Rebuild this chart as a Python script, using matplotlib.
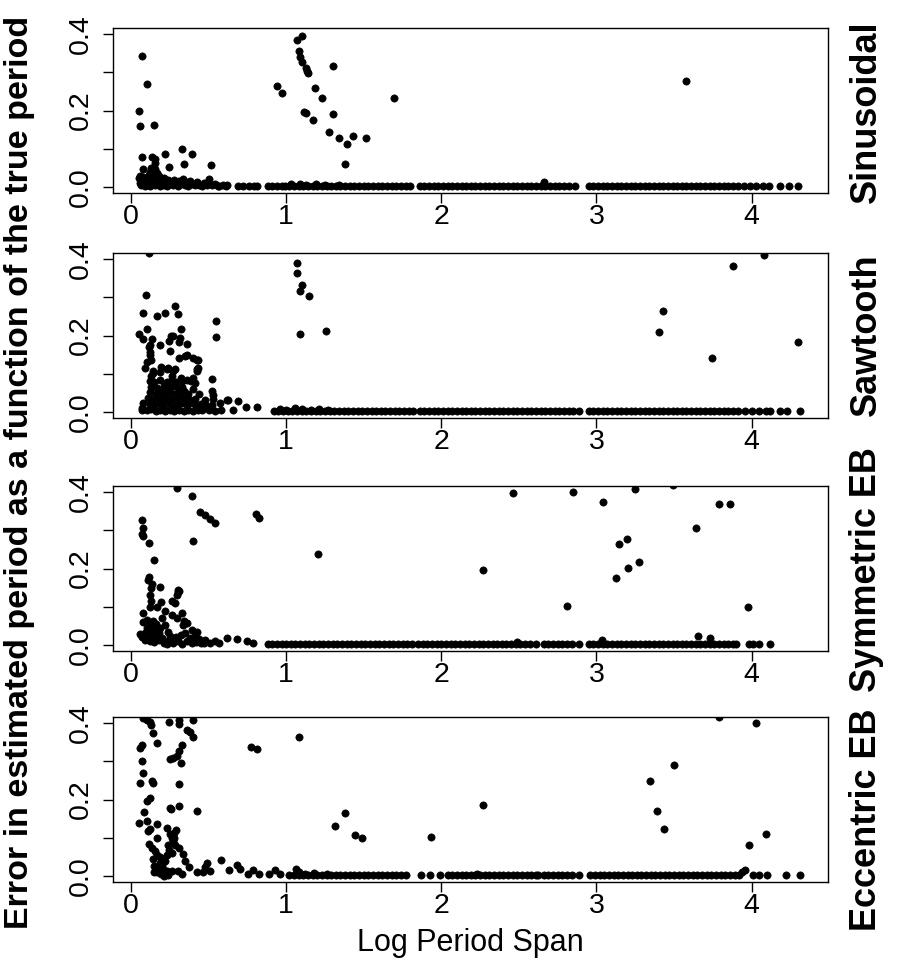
import matplotlib
matplotlib.use("Agg")
import matplotlib.pyplot as plt

plt.rcParams['font.family'] = ['Liberation Sans', 'DejaVu Sans']

# ---------------- data (x = log period span, y = error) ----------------
sinusoidal_pts = [
    (0.069,0.342),(0.105,0.269),(0.054,0.200),(0.060,0.159),(0.151,0.161),
    (0.073,0.078),(0.138,0.078),(0.155,0.074),(0.217,0.086),(0.331,0.099),(0.396,0.086),
    (0.153,0.062),(0.077,0.046),(0.245,0.053),(0.340,0.059),(0.518,0.057),(0.155,0.046),
    (0.165,0.037),(0.130,0.050),(0.145,0.030),(0.135,0.035),(0.150,0.040),(0.140,0.050),
    (0.120,0.040),(0.170,0.030),(0.180,0.028),
    (0.050,0.022),(0.055,0.010),(0.060,0.028),(0.065,0.004),(0.070,0.016),(0.075,0.025),
    (0.080,0.008),(0.085,0.020),(0.090,0.003),(0.095,0.013),(0.100,0.024),(0.105,0.006),
    (0.110,0.018),(0.115,0.030),(0.120,0.002),(0.125,0.012),(0.130,0.022),(0.135,0.007),
    (0.140,0.016),(0.150,0.026),(0.155,0.004),(0.160,0.014),(0.170,0.020),(0.175,0.008),
    (0.185,0.017),(0.190,0.003),(0.200,0.012),(0.210,0.022),(0.215,0.006),(0.225,0.015),
    (0.235,0.003),(0.240,0.019),(0.250,0.009),(0.260,0.014),(0.270,0.004),(0.280,0.018),
    (0.290,0.010),(0.300,0.003),(0.310,0.015),(0.320,0.008),(0.335,0.020),(0.345,0.005),
    (0.355,0.012),(0.370,0.003),(0.380,0.015),(0.395,0.008),(0.410,0.004),(0.425,0.012),
    (0.440,0.006),(0.455,0.003),(0.470,0.010),(0.490,0.005),(0.505,0.020),(0.520,0.004),
    (0.540,0.008),(0.560,0.003),(0.590,0.006),(0.620,0.004),
    (1.067,0.384),(1.103,0.395),(1.082,0.355),(1.092,0.339),(1.103,0.328),(1.129,0.310),
    (1.133,0.304),(1.138,0.297),(1.299,0.316),(0.944,0.264),(0.974,0.245),(1.183,0.260),
    (1.234,0.232),(1.692,0.232),(1.112,0.196),(1.127,0.193),(1.305,0.190),(1.176,0.176),
    (1.277,0.143),(1.342,0.128),(1.428,0.133),(1.394,0.111),(1.512,0.128),(1.376,0.061),
    (3.579,0.277),(2.660,0.014),
    (1.03,0.007),(1.09,0.008),(1.13,0.006),(1.19,0.007),(1.25,0.005),(1.34,0.006),
]
sinusoidal_zero_x = [
    0.57,0.61,0.69,0.72,0.76,0.79,0.81,0.88,0.91,0.94,0.97,
    0.99,1.02,1.05,1.08,1.11,1.14,1.17,1.20,1.23,1.26,1.29,1.32,1.35,1.38,1.41,1.44,
    1.47,1.50,1.53,1.56,1.59,1.62,1.65,1.68,1.71,1.74,1.77,1.80,
    1.86,1.89,1.92,1.95,1.98,2.01,2.04,2.07,2.10,2.13,2.16,2.19,2.22,2.25,2.28,2.31,
    2.34,2.37,2.40,2.43,2.46,2.49,2.52,2.55,2.58,2.61,2.64,2.67,2.70,2.73,2.76,2.79,
    2.82,2.86,
    2.95,2.98,3.01,3.04,3.07,3.10,3.13,3.16,3.19,3.22,3.25,3.28,3.31,3.34,3.37,3.40,
    3.43,3.46,3.49,3.52,3.55,3.58,3.61,3.64,3.67,3.70,3.73,3.76,3.79,3.82,3.85,3.88,3.91,
    3.95,3.99,4.03,4.07,4.11,4.18,4.24,4.30,
]

sawtooth_pts = [
    (0.118,0.415),(0.099,0.306),(0.077,0.259),(0.105,0.216),(0.168,0.252),(0.222,0.259),
    (0.286,0.276),(0.305,0.256),(0.325,0.216),(0.548,0.238),(0.548,0.196),(0.054,0.203),
    (0.080,0.192),(0.133,0.190),(0.123,0.175),(0.187,0.175),(0.258,0.198),(0.247,0.185),
    (0.314,0.194),(0.363,0.177),(0.252,0.159),(0.123,0.148),(0.101,0.131),(0.092,0.115),
    (0.312,0.141),(0.359,0.148),(0.402,0.141),(0.428,0.135),(0.428,0.112),(0.424,0.107),
    (0.230,0.112),(0.270,0.108),(0.187,0.104),(0.145,0.106),(0.130,0.095),(0.262,0.093),
    (0.320,0.090),(0.385,0.080),(0.400,0.088),(0.525,0.087),(0.520,0.054),(0.530,0.044),
    (0.075,0.024),(0.069,0.010),(0.617,0.031),(0.692,0.029),(0.574,0.022),(0.626,0.030),
    (0.744,0.014),(0.810,0.012),(0.120,0.157),(0.130,0.135),(0.142,0.102),(0.116,0.170),
    (0.271,0.198),(0.310,0.183),(0.346,0.146),(0.432,0.136),(0.432,0.114),(0.196,0.118),
    (0.239,0.116),(0.282,0.111),
    (0.07,0.005),(0.10,0.004),(0.13,0.007),(0.16,0.002),(0.19,0.006),(0.22,0.003),
    (0.25,0.005),(0.28,0.002),(0.31,0.006),(0.34,0.003),(0.37,0.005),(0.40,0.002),
    (0.43,0.006),(0.46,0.004),(0.50,0.005),(0.54,0.003),(0.58,0.004),(0.66,0.006),
    (0.12,0.021),(0.15,0.018),(0.18,0.023),(0.21,0.019),(0.24,0.022),(0.27,0.017),
    (0.30,0.021),(0.33,0.024),(0.36,0.019),(0.39,0.022),(0.42,0.018),(0.45,0.021),
    (0.49,0.016),(0.52,0.019),
    (0.11,0.036),(0.14,0.033),(0.17,0.038),(0.20,0.034),(0.23,0.037),(0.26,0.032),
    (0.29,0.036),(0.32,0.039),(0.35,0.034),(0.38,0.031),(0.41,0.035),(0.48,0.030),
    (0.53,0.033),
    (0.12,0.051),(0.16,0.048),(0.19,0.053),(0.22,0.049),(0.25,0.052),(0.28,0.047),
    (0.31,0.050),(0.34,0.054),(0.37,0.048),(0.44,0.046),
    (0.13,0.066),(0.17,0.063),(0.21,0.068),(0.24,0.064),(0.27,0.067),(0.30,0.062),
    (0.33,0.065),(0.40,0.061),
    (0.12,0.081),(0.15,0.078),(0.19,0.083),(0.23,0.079),(0.26,0.082),(0.29,0.077),
    (0.33,0.080),(0.36,0.084),(0.41,0.076),
    (1.067,0.390),(1.071,0.363),(1.103,0.332),(1.090,0.316),(1.144,0.303),(1.086,0.205),
    (1.254,0.213),
    (3.880,0.383),(4.080,0.412),(3.428,0.263),(3.404,0.208),(3.744,0.140),(4.301,0.184),
    (0.96,0.007),(1.00,0.006),(1.06,0.009),(1.10,0.008),(1.16,0.006),(1.21,0.007),
    (1.27,0.006),
]
sawtooth_zero_x = [
    0.92,0.95,0.98,1.01,1.04,1.07,1.10,1.13,1.16,1.19,1.22,1.25,1.28,1.31,1.34,1.37,
    1.40,1.43,1.46,1.49,1.52,1.55,1.58,1.61,1.64,1.67,1.70,1.73,1.76,1.79,1.82,
    1.86,1.89,1.92,1.95,1.98,2.01,2.04,2.07,2.10,2.13,2.16,2.19,2.22,2.25,2.28,2.31,
    2.34,2.37,2.40,2.43,2.46,2.49,2.52,2.55,2.58,2.61,2.64,
    2.67,2.70,2.73,2.76,2.79,2.82,2.85,2.89,
    2.95,2.98,3.01,3.04,3.07,3.10,3.13,3.16,3.19,3.22,3.25,3.28,3.31,3.34,3.37,3.40,
    3.43,3.46,3.49,3.52,3.55,3.58,3.61,3.64,3.67,3.70,3.73,3.76,3.79,3.82,3.85,3.88,3.91,
    3.96,4.00,4.05,4.09,4.12,4.18,4.23,4.31,
]

symmetric_pts = [
    (0.299,0.410),(0.396,0.390),(0.071,0.327),(0.080,0.306),(0.073,0.290),(0.080,0.284),
    (0.118,0.266),(0.151,0.223),(0.402,0.272),(0.445,0.349),(0.477,0.339),(0.510,0.330),
    (0.544,0.319),(0.804,0.343),(0.822,0.332),(1.202,0.239),(2.267,0.196),(2.460,0.397),
    (0.118,0.179),(0.112,0.170),(0.133,0.159),(0.127,0.148),(0.123,0.131),(0.127,0.115),
    (0.187,0.151),(0.310,0.140),(0.295,0.131),(0.262,0.115),(0.284,0.109),(0.194,0.112),
    (0.166,0.100),(0.123,0.100),(0.075,0.083),(0.262,0.079),(0.327,0.083),(0.299,0.070),
    (0.363,0.057),(0.338,0.052),(0.198,0.070),(0.219,0.052),(0.241,0.035),(0.252,0.022),
    (0.391,0.039),(0.424,0.035),(0.617,0.017),(0.682,0.015),(0.746,0.009),(0.789,0.004),
    (0.300,0.138),(0.305,0.145),
    (0.08,0.060),(0.10,0.066),(0.12,0.058),(0.14,0.063),(0.16,0.055),(0.10,0.045),
    (0.13,0.041),(0.15,0.036),(0.17,0.044),(0.09,0.032),(0.11,0.026),(0.14,0.022),
    (0.16,0.028),(0.18,0.031),(0.20,0.019),(0.07,0.021),(0.09,0.014),(0.12,0.010),
    (0.15,0.008),(0.18,0.012),(0.21,0.006),(0.24,0.010),(0.27,0.004),(0.30,0.009),
    (0.33,0.003),(0.36,0.011),(0.39,0.005),(0.42,0.008),(0.45,0.004),(0.48,0.012),
    (0.51,0.005),(0.54,0.009),(0.57,0.004),(0.23,0.003),(0.26,0.016),(0.29,0.020),
    (0.32,0.025),(0.35,0.030),(0.38,0.018),(0.41,0.022),(0.44,0.015),(0.47,0.006),
    (0.06,0.028),(0.19,0.045),(0.22,0.088),(0.34,0.062),
    (2.847,0.400),(3.041,0.374),(3.247,0.407),(3.495,0.418),(3.789,0.369),(3.860,0.369),
    (3.643,0.306),(3.144,0.264),(3.194,0.276),(3.202,0.201),(3.273,0.216),(3.127,0.175),
    (2.809,0.103),(3.974,0.099),(3.656,0.023),(3.731,0.017),(3.037,0.013),(2.490,0.007),
]
symmetric_zero_x = [
    0.88,0.91,0.94,0.97,1.00,1.03,1.06,1.09,1.12,1.15,1.18,1.21,1.24,1.27,1.30,1.33,
    1.36,1.39,1.42,1.45,1.48,1.51,1.54,1.57,1.60,1.63,1.66,1.69,1.72,1.75,1.78,1.81,
    1.85,1.88,1.91,1.94,1.97,2.00,2.03,2.06,2.09,2.12,2.15,2.18,2.21,2.24,2.27,2.30,
    2.33,2.36,2.39,2.42,2.45,2.48,2.51,2.54,2.57,2.61,
    2.66,2.69,2.72,2.75,2.78,2.81,2.84,2.89,
    2.95,2.98,3.01,3.04,3.07,3.10,3.13,3.16,3.19,3.22,3.25,3.28,3.31,3.34,3.37,3.40,
    3.43,3.46,3.49,3.52,3.55,3.58,3.61,3.64,3.67,3.70,3.73,3.76,3.79,3.82,3.85,3.88,3.90,
    3.98,4.01,4.05,4.12,
]

eccentric_pts = [
    (0.080,0.413),(0.100,0.408),(0.123,0.403),(0.127,0.396),(0.247,0.403),(0.312,0.409),
    (0.312,0.397),(0.402,0.407),(0.363,0.383),(0.381,0.378),(0.398,0.363),(0.144,0.374),
    (0.170,0.348),(0.058,0.335),(0.071,0.343),(0.327,0.343),(0.312,0.328),(0.295,0.313),
    (0.252,0.307),(0.269,0.309),(0.323,0.296),(0.071,0.300),(0.080,0.270),(0.058,0.243),
    (0.133,0.248),(0.144,0.243),(0.310,0.241),(0.101,0.196),(0.123,0.204),(0.252,0.178),
    (0.256,0.174),(0.310,0.183),(0.428,0.170),(0.084,0.167),(0.054,0.139),(0.105,0.143),
    (0.170,0.137),(0.112,0.117),(0.123,0.122),(0.234,0.126),(0.170,0.098),(0.118,0.084),
    (0.133,0.074),(0.155,0.065),(0.166,0.055),(0.140,0.043),
    (0.252,0.109),(0.262,0.100),(0.277,0.111),(0.290,0.119),(0.272,0.091),(0.241,0.082),
    (0.247,0.069),(0.230,0.056),(0.219,0.039),(0.187,0.034),(0.209,0.017),(0.310,0.074),
    (0.338,0.057),(0.348,0.039),(0.372,0.022),(0.170,0.009),(0.213,0.000),(0.262,0.013),
    (0.331,0.004),(0.424,0.009),(0.467,0.009),(0.488,0.035),(0.510,0.013),(0.480,0.022),
    (0.150,0.025),(0.180,0.020),(0.200,0.028),(0.230,0.012),(0.190,0.050),(0.265,0.060),
    (0.285,0.080),(0.280,0.100),(0.195,0.005),(0.240,0.003),(0.150,0.010),(0.300,0.012),
    (0.578,0.042),(0.634,0.016),(0.682,0.029),(0.703,0.017),(0.757,0.004),(0.789,0.015),
    (0.822,0.004),(0.892,0.004),(0.929,0.016),(0.961,0.004),(1.065,0.019),
    (0.772,0.338),(0.811,0.331),(1.080,0.363),(1.312,0.130),(1.376,0.164),(1.441,0.108),
    (1.488,0.100),(1.935,0.103),(2.267,0.186),
    (3.789,0.415),(4.028,0.399),(3.497,0.291),(3.344,0.249),(3.387,0.171),(3.434,0.123),
    (4.092,0.110),(3.981,0.082),(3.957,0.016),(3.940,0.009),
    (1.08,0.009),(1.12,0.006),(1.18,0.007),(1.26,0.005),(2.23,0.005),
]
eccentric_zero_x = [
    1.02,1.05,1.08,1.11,1.14,1.17,1.20,1.23,1.26,1.29,1.32,1.35,1.38,1.41,1.44,1.47,
    1.50,1.53,1.56,1.59,1.62,1.65,1.68,1.71,1.74,1.77,
    1.87,1.93,1.99,
    2.04,2.07,2.10,2.13,2.16,2.19,2.22,2.25,2.28,2.31,2.34,2.37,2.40,2.43,2.46,2.49,
    2.52,2.55,2.58,2.61,2.62,2.66,2.69,2.72,2.75,2.78,2.81,2.84,2.89,
    2.96,2.99,3.02,3.05,3.08,3.11,3.14,3.17,3.20,3.23,3.26,3.29,3.32,3.35,3.38,3.41,
    3.44,3.47,3.50,3.53,3.56,3.59,3.62,3.65,3.68,3.71,3.74,3.77,3.80,3.83,3.86,3.89,3.92,
    4.01,4.05,4.10,4.22,4.31,
]
zero_level = 0.002

panel_labels = ["Sinusoidal", "Sawtooth", "Symmetric EB", "Eccentric EB"]
panel_points = [sinusoidal_pts, sawtooth_pts, symmetric_pts, eccentric_pts]
panel_zero_x = [sinusoidal_zero_x, sawtooth_zero_x, symmetric_zero_x, eccentric_zero_x]

x_ticks = [0, 1, 2, 3, 4]
y_ticks = [0.0, 0.1, 0.2, 0.3, 0.4]
y_tick_labels = ["0.0", "", "0.2", "", "0.4"]

# ---------------- layout ----------------
W, H = 897, 973
fig = plt.figure(figsize=(W / 100, H / 100), dpi=100)

left_px, right_px = 113, 828
tops = [28, 253, 486, 717]
bottoms = [193, 418, 651, 882]
label_centers = [112, 335, 570, 820]

for i in range(4):
    ax = fig.add_axes([left_px / W, 1 - bottoms[i] / H,
                       (right_px - left_px) / W, (bottoms[i] - tops[i]) / H])
    pts = panel_points[i]
    xs = [p[0] for p in pts]
    ys = [p[1] for p in pts]
    zx = panel_zero_x[i]
    ax.plot(zx, [zero_level] * len(zx), 'o', color='black', markersize=5.2,
            markeredgewidth=0.5)
    ax.plot(xs, ys, 'o', color='black', markersize=5.2, markeredgewidth=0.5)
    ax.set_xlim(-0.116, 4.492)
    ax.set_ylim(-0.016, 0.416)
    ax.set_xticks(x_ticks)
    ax.set_xticklabels([str(t) for t in x_ticks], fontsize=20.5)
    ax.set_yticks(y_ticks)
    ax.set_yticklabels(y_tick_labels, fontsize=20.5, rotation=90, va='center')
    ax.tick_params(axis='both', length=7, width=1, direction='out')
    ax.tick_params(axis='x', pad=1)
    ax.tick_params(axis='y', pad=7)
    for s in ax.spines.values():
        s.set_linewidth(1.0)
    fig.text(866 / W, 1 - label_centers[i] / H, panel_labels[i], rotation=90,
             ha='center', va='center', fontsize=26, fontweight='bold')

fig.text(20 / W, 1 - 472 / H,
         "Error in estimated period as a function of the true period",
         rotation=90, ha='center', va='center', fontsize=24.5, fontweight='bold')
fig.text(470 / W, 1 - 943 / H, "Log Period Span", ha='center', va='center',
         fontsize=22)

fig.savefig("out.png", dpi=100)
